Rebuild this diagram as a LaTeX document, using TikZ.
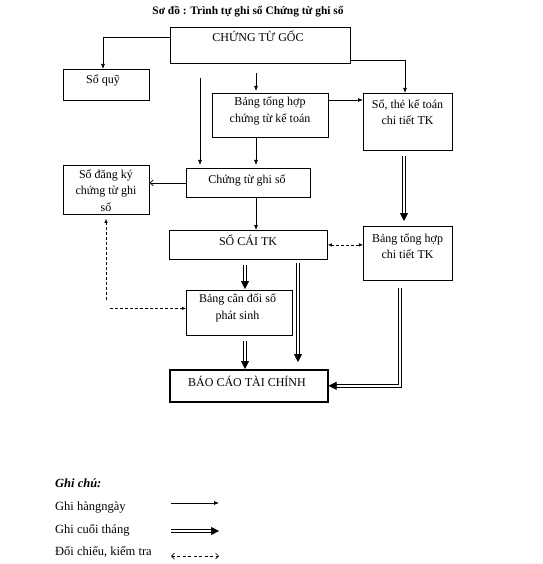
\documentclass[tikz,border=0pt]{standalone}
\usepackage{fontspec}
\setmainfont{Liberation Serif}
\usetikzlibrary{arrows.meta,calc}
\newcommand\dblv[3]{%
  \draw[ln] ($(#1)+(-1.3,#3)$) -- ($(#2)+(-1.3,-7.5)$);
  \draw[ln] ($(#1)+(1.3,#3)$) -- ($(#2)+(1.3,-7.5)$);
  \draw[dtip] ($(#2)+(0,-8)$) -- (#2);}
\begin{document}
\begin{tikzpicture}[x=1pt,y=-1pt,
  box/.style={draw, line width=0.8pt, rectangle, inner sep=0pt, anchor=north west},
  txt/.style={font=\fontsize{12}{16.5}\selectfont, align=center, inner sep=0pt},
  ln/.style={line width=0.7pt},
  arr/.style={line width=0.7pt, -{Latex[length=5pt,width=4pt]}},
  arropen/.style={line width=0.7pt, -{Straight Barb[length=3pt,width=6pt]}},
  dtip/.style={line width=0.5pt, -{Triangle[length=8pt,width=8pt]}},
  dashln/.style={line width=0.7pt, dash pattern=on 3pt off 2pt},
  dsh/.style={dashln, {Latex[length=4pt,width=3.5pt]}-{Latex[length=4pt,width=3.5pt]}},
  dshopen/.style={line width=0.7pt, dash pattern=on 3pt off 2.5pt, {Straight Barb[length=3pt,width=6pt]}-{Straight Barb[length=3pt,width=6pt]}},
]
\useasboundingbox (0,0) rectangle (542,564);

% title
\node[txt, font=\bfseries\fontsize{11.4}{12}\selectfont] (title) at (248,12) {Sơ đồ : Trình tự ghi sổ Chứng từ ghi sổ};

% boxes
\node[box, minimum width=180pt, minimum height=36pt] (ctg) at (170,27) {};
\node[txt] (ctgt) at (258,36.5) {CHỨNG TỪ GỐC};

\node[box, minimum width=86pt, minimum height=31pt] (soquy) at (63,69) {};
\node[txt] (soquyt) at (103,80) {Sổ quỹ};

\node[box, minimum width=116pt, minimum height=44pt] (bth) at (212,93) {};
\node[txt] (btht) at (270,111) {Bảng tổng hợp\\chứng từ kế toán};

\node[box, minimum width=89pt, minimum height=57pt] (sothe) at (363,93) {};
\node[txt] (sothet) at (407.5,112) {Sổ, thẻ kế toán\\chi tiết TK};

\node[box, minimum width=124pt, minimum height=29pt] (ctgs) at (186,168) {};
\node[txt] (ctgst) at (247,180.5) {Chứng từ ghi sổ};

\node[box, minimum width=86pt, minimum height=49pt] (sdk) at (63,165) {};
\node[txt] (sdkt) at (106,190.5) {Sổ đăng ký\\chứng từ ghi\\sổ};

\node[box, minimum width=158pt, minimum height=29pt] (socai) at (169,230) {};
\node[txt] (socait) at (248,240.5) {SỔ CÁI TK};

\node[box, minimum width=89pt, minimum height=54pt] (bthct) at (363,226) {};
\node[txt] (bthctt) at (407.5,246) {Bảng tổng hợp\\chi tiết TK};

\node[box, minimum width=106pt, minimum height=45pt] (bcd) at (186,290) {};
\node[txt] (bcdt) at (237.5,308) {Bảng cân đối số\\phát sinh};

\node[box, line width=1.6pt, minimum width=158pt, minimum height=32pt] (bctc) at (169,369) {};
\node[txt] (bctct) at (247,381.5) {BÁO CÁO TÀI CHÍNH};

% helper coordinates
\coordinate (x103) at (103,0);
\coordinate (x200) at (200,78);
\coordinate (x256) at (256,73);
\coordinate (x245) at (245,0);
\coordinate (x298) at (298,0);
\coordinate (x400) at (400,0);
\coordinate (x404) at (404,0);
\coordinate (x405) at (405,0);
\coordinate (x106) at (106,0);

% daily arrows
\draw[arr] ([yshift=-10pt]ctg.north west) -| (x103 |- soquy.north);
\draw[arr, shorten >=3pt] (x200) -- (x200 |- ctgs.north);
\draw[arr, shorten >=2pt] (x256) -- (x256 |- bth.north);
\draw[arr] ([yshift=-7pt]bth.north east) -- ([yshift=-7pt]sothe.north west);
\draw[arr] ([yshift=3pt]ctg.south east) -| (x405 |- sothe.north);
\draw[arr, shorten >=3pt] (x256 |- bth.south) -- (x256 |- ctgs.north);
\draw[arropen] (ctgs.west) -- (ctgs.west -| sdk.east);
\draw[arr] (x256 |- ctgs.south) -- (x256 |- socai.north);

% month-end arrows (double lines)
\coordinate (s1) at (x404 |- sothe.south);
\coordinate (e1) at ($(x404 |- bthct.north)+(0,-5)$);
\coordinate (s2) at (x245 |- socai.south);
\coordinate (e2) at ($(x245 |- bcd.north)+(0,-1)$);
\coordinate (s3) at (x298 |- socai.south);
\coordinate (e3) at ($(x298 |- bctc.north)+(0,-7)$);
\coordinate (s4) at (x245 |- bcd.south);
\coordinate (e4) at (x245 |- bctc.north);
\coordinate (s5) at ($(x400 |- bthct.south)+(0,7)$);
\coordinate (e5) at (bctc.east);

\dblv{s1}{e1}{5}
\dblv{s2}{e2}{5}
\dblv{s3}{e3}{3}
\dblv{s4}{e4}{5}
\draw[ln] ($(s5)+(1.3,0)$) |- ($(e5)+(7.5,1.3)$);
\draw[ln] ($(s5)+(-1.3,0)$) |- ($(e5)+(7.5,-1.3)$);
\draw[dtip] ($(e5)+(8,0)$) -- (e5);

% checking arrows
\draw[dsh] (socai.east) -- (socai.east -| bthct.west);
\coordinate (dc) at (x106 |- bcd.west);
\draw[dashln, {Latex[length=4pt,width=3.5pt]}-, shorten <=4pt] (x106 |- sdk.south) -- ($(dc)+(0,-11)$);
\draw[dashln, -{Latex[length=4pt,width=3.5pt]}] ($(dc)+(4,-4.5)$) -- ([yshift=4.5pt]bcd.west);

% legend
\node[txt, anchor=west, font=\fontsize{12.5}{16}\selectfont] (lg0) at (55,483) {\textbf{\textit{Ghi chú:}}};
\node[txt, anchor=west, font=\fontsize{12.5}{16}\selectfont] (lg1) at (55,507) {Ghi hàngngày};
\node[txt, anchor=west, font=\fontsize{12.5}{16}\selectfont] (lg2) at (55,530) {Ghi cuối tháng};
\node[txt, anchor=west, font=\fontsize{12.5}{16}\selectfont] (lg3) at (55,552) {Đối chiếu, kiểm tra};
\coordinate (l1a) at (171,503); \coordinate (l1b) at (219,503);
\coordinate (l2a) at (171,531); \coordinate (l2b) at (219,531);
\coordinate (l3a) at (171,556); \coordinate (l3b) at (219,556);
\draw[arr] (l1a) -- (l1b);
\draw[ln] ($(l2a)+(0,-1.3)$) -- ($(l2b)+(-7.5,-1.3)$);
\draw[ln] ($(l2a)+(0,1.3)$) -- ($(l2b)+(-7.5,1.3)$);
\draw[dtip] ($(l2b)+(-8,0)$) -- (l2b);
\draw[dshopen] (l3a) -- (l3b);
\end{tikzpicture}
\end{document}
